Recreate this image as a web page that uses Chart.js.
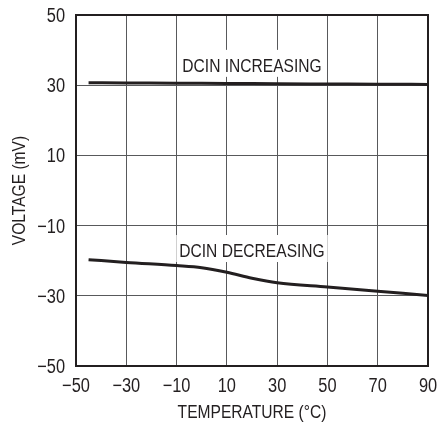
<!DOCTYPE html>
<html>
<head>
<meta charset="utf-8">
<script src="https://cdn.jsdelivr.net/npm/chart.js@4.4.1/dist/chart.umd.min.js"></script>
<style>
  html, body { margin: 0; padding: 0; background: #fff; }
  #wrap { width: 439px; height: 425px; position: relative; }
</style>
</head>
<body>
<div id="wrap"><canvas id="c" width="439" height="425"></canvas></div>
<script>
// ---- data ----
const temperatureIncreasing = [-45, -30, -10, 10, 30, 50, 70, 90];
const voltageIncreasing     = [30.7, 30.65, 30.55, 30.5, 30.4, 30.35, 30.3, 30.2];
const temperatureDecreasing = [-45, -30, -10, 0, 10, 20, 30, 50, 70, 90];
const voltageDecreasing     = [-19.7, -20.5, -21.4, -22.0, -23.3, -25.0, -26.3, -27.5, -28.7, -29.9];
const xTicks = [-50, -30, -10, 10, 30, 50, 70, 90];
const yTicks = [-50, -30, -10, 10, 30, 50];
const seriesLabels = ['DCIN INCREASING', 'DCIN DECREASING'];
const labelAnchorX = [20, 20];        // label centre, data units
const labelAnchorY = [33.8, -18.95];  // label baseline, data units
const xTitle = 'TEMPERATURE (\u00B0C)';
const yTitle = 'VOLTAGE (mV)';

const FONT = '"Liberation Sans", Arial, sans-serif';
const SQUEEZE = 0.82;
const INK = '#231f20';
const fmt = v => (v < 0 ? '\u2212' + Math.abs(v) : String(v));

function drawText(ctx, text, x, y, size, align, rot) {
  ctx.save();
  ctx.translate(x, y);
  if (rot) ctx.rotate(rot);
  ctx.scale(SQUEEZE, 1);
  ctx.font = size + 'px ' + FONT;
  ctx.textAlign = align;
  ctx.textBaseline = 'alphabetic';
  ctx.fillStyle = INK;
  ctx.fillText(text, 0, 0);
  ctx.restore();
}
function textWidth(ctx, text, size) {
  ctx.save();
  ctx.font = size + 'px ' + FONT;
  const w = ctx.measureText(text).width * SQUEEZE;
  ctx.restore();
  return w;
}

const labelPlugin = {
  id: 'seriesLabels',
  beforeDatasetsDraw(chart) {
    const { ctx, scales: { x, y } } = chart;
    seriesLabels.forEach((t, i) => {
      const px = x.getPixelForValue(labelAnchorX[i]);
      const py = y.getPixelForValue(labelAnchorY[i]);
      const w = textWidth(ctx, t, 19);
      ctx.save();
      ctx.fillStyle = '#fff';
      ctx.fillRect(px - w / 2 - 3, py - 22, w + 6, 27);
      ctx.restore();
      drawText(ctx, t, px, py, 19, 'center', 0);
    });
  }
};

const axisTextPlugin = {
  id: 'axisText',
  afterDraw(chart) {
    const { ctx, chartArea: a, scales: { x, y } } = chart;
    // frame
    ctx.save();
    ctx.strokeStyle = INK;
    ctx.lineWidth = 2;
    ctx.strokeRect(a.left, a.top, a.right - a.left, a.bottom - a.top);
    ctx.restore();
    xTicks.forEach(v => drawText(ctx, fmt(v), x.getPixelForValue(v), a.bottom + 26, 20, 'center', 0));
    yTicks.forEach(v => drawText(ctx, fmt(v), a.left - 11, y.getPixelForValue(v) + 7, 20, 'right', 0));
    drawText(ctx, xTitle, (a.left + a.right) / 2, a.bottom + 52, 19, 'center', 0);
    drawText(ctx, yTitle, 25, (a.top + a.bottom) / 2, 19, 'center', -Math.PI / 2);
  }
};

new Chart(document.getElementById('c'), {
  type: 'line',
  data: {
    datasets: [
      {
        label: seriesLabels[0],
        data: temperatureIncreasing.map((t, i) => ({ x: t, y: voltageIncreasing[i] })),
        borderColor: INK, borderWidth: 3, pointRadius: 0, fill: false,
        cubicInterpolationMode: 'monotone'
      },
      {
        label: seriesLabels[1],
        data: temperatureDecreasing.map((t, i) => ({ x: t, y: voltageDecreasing[i] })),
        borderColor: INK, borderWidth: 3, pointRadius: 0, fill: false,
        cubicInterpolationMode: 'monotone'
      }
    ]
  },
  options: {
    responsive: false,
    animation: false,
    devicePixelRatio: 1,
    layout: { autoPadding: false, padding: { top: 15, right: 11, left: 0, bottom: 0 } },
    plugins: { legend: { display: false }, tooltip: { enabled: false } },
    scales: {
      x: {
        type: 'linear', min: -50, max: 90,
        afterBuildTicks: s => { s.ticks = xTicks.map(v => ({ value: v })); },
        afterFit: s => { s.height = 59; },
        ticks: { display: false },
        grid: { color: '#58595b', lineWidth: 1, drawTicks: false },
        border: { color: INK, width: 2 }
      },
      y: {
        type: 'linear', min: -50, max: 50,
        afterBuildTicks: s => { s.ticks = yTicks.map(v => ({ value: v })); },
        afterFit: s => { s.width = 76; },
        ticks: { display: false },
        grid: { color: '#58595b', lineWidth: 1, drawTicks: false },
        border: { color: INK, width: 2 }
      }
    }
  },
  plugins: [labelPlugin, axisTextPlugin]
});
</script>
</body>
</html>
